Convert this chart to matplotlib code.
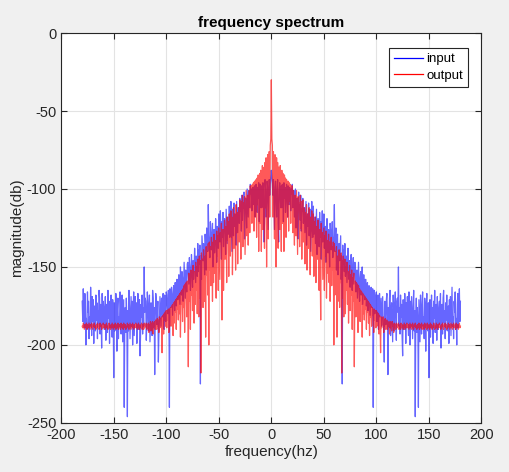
import numpy as np
from matplotlib import pyplot as plt

# one-sided spectrum, 0..180 Hz in 0.5 Hz steps (the picture is symmetric about 0)
input_half = [
    -88, -92, -97, -104, -94, -110, -126, -99, -95, -108, -118, -100, -94, -122, -134, -101, -96, -105, -112, -98,
    -112, -97, -102, -121, -96, -106, -99, -115, -108, -97, -103, -118, -98, -100, -110, -99, -104, -114, -100, -103,
    -97, -112, -104, -101, -118, -109, -100, -125, -109, -106, -115, -132, -102, -112, -110, -120, -104, -127, -113, -114,
    -106, -122, -116, -112, -128, -118, -108, -136, -121, -116, -124, -109, -130, -119, -113, -140, -123, -108, -126, -131,
    -111, -129, -121, -118, -135, -124, -113, -142, -127, -119, -122, -137, -115, -131, -121, -145, -126, -114, -134, -128,
    -116, -138, -127, -124, -147, -130, -119, -135, -141, -126, -132, -150, -122, -128, -139, -133, -121, -144, -136, -130,
    -110, -140, -131, -125, -152, -137, -129, -155, -141, -135, -146, -138, -130, -158, -143, -225, -136, -148, -139, -153,
    -135, -156, -147, -143, -160, -149, -138, -152, -158, -146, -163, -151, -142, -157, -165, -150, -144, -161, -154, -147,
    -148, -166, -156, -152, -170, -159, -147, -163, -172, -157, -153, -168, -161, -150, -174, -164, -155, -167, -171, -158,
    -158, -175, -166, -160, -178, -169, -162, -172, -181, -167, -163, -176, -170, -164, -240, -173, -165, -180, -175, -168,
    -166, -185, -172, -168, -190, -177, -167, -182, -176, -170, -188, -179, -169, -184, -193, -211, -172, -181, -187, -171,
    -167, -183, -219, -176, -189, -170, -165, -194, -180, -173, -186, -198, -168, -178, -191, -174, -166, -185, -197, -172,
    -170, -179, -150, -188, -176, -193, -168, -182, -174, -195, -207, -171, -184, -190, -167, -178, -199, -173, -186, -169,
    -181, -194, -166, -177, -200, -172, -188, -169, -183, -196, -175, -165, -191, -178, -246, -184, -170, -192, -176, -187,
    -240, -171, -185, -198, -168, -179, -193, -174, -166, -188, -182, -196, -170, -177, -204, -175, -167, -186, -191, -173,
    -221, -180, -171, -195, -184, -168, -189, -176, -199, -172, -183, -165, -192, -179, -174, -197, -169, -185, -190, -176,
    -172, -187, -167, -202, -181, -174, -193, -170, -165, -186, -178, -196, -173, -184, -168, -191, -180, -175, -199, -171,
    -185, -169, -194, -177, -163, -188, -182, -196, -172, -179, -166, -190, -183, -200, -174, -167, -189, -178, -164, -185,
    -172,
]

output_half = [
    -30, -68, -72, -118, -76, -98, -132, -78, -90, -150, -80, -112, -83, -138, -86, -96, -126, -85, -104, -140,
    -88, -122, -90, -102, -140, -91, -110, -93, -131, -94, -100, -118, -95, -127, -96, -108, -97, -122, -98, -112,
    -98, -128, -101, -115, -136, -104, -110, -130, -101, -120, -142, -105, -113, -109, -137, -104, -125, -108, -145, -116,
    -107, -134, -112, -122, -148, -115, -128, -110, -152, -119, -116, -138, -112, -126, -155, -118, -131, -114, -143, -121,
    -116, -156, -121, -133, -118, -160, -128, -124, -145, -120, -138, -165, -126, -150, -184, -122, -135, -128, -158, -140,
    -125, -165, -130, -143, -127, -170, -148, -133, -154, -129, -160, -134, -172, -146, -131, -162, -137, -152, -134, -200,
    -135, -168, -140, -155, -137, -195, -143, -172, -150, -139, -176, -145, -160, -141, -218, -146, -170, -143, -182, -158,
    -145, -180, -150, -165, -147, -174, -153, -186, -160, -149, -178, -155, -168, -152, -190, -157, -172, -154, -214, -166,
    -159, -182, -160, -170, -161, -192, -162, -176, -164, -185, -165, -174, -166, -195, -167, -180, -168, -184, -169, -177,
    -170, -190, -171, -179, -172, -186, -173, -194, -174, -182, -175, -188, -176, -181, -177, -192, -177, -184, -178, -189,
    -178, -188, -179, -184, -180, -193, -181, -186, -205, -182, -189, -183, -187, -182, -192, -184, -188, -183, -190, -185,
    -184, -190, -185, -188, -186, -193, -185, -189, -186, -191, -185, -188, -187, -192, -186, -189, -187, -190, -186, -188,
    -187, -189, -186, -190, -188, -187, -190, -186, -189, -188, -187, -190, -189, -186, -188, -190, -187, -189, -186, -188,
    -189, -187, -190, -188, -186, -189, -187, -190, -188, -186, -189, -190, -187, -188, -186, -189, -188, -190, -187, -189,
    -188, -186, -190, -187, -189, -188, -186, -190, -189, -187, -188, -190, -186, -189, -187, -188, -190, -186, -189, -188,
    -187, -190, -188, -186, -189, -187, -190, -188, -189, -186, -187, -190, -188, -189, -186, -188, -190, -187, -189, -188,
    -186, -189, -188, -190, -187, -188, -186, -189, -190, -187, -188, -186, -189, -187, -190, -188, -189, -186, -188, -187,
    -190, -188, -186, -189, -187, -190, -188, -186, -189, -188, -187, -190, -186, -188, -189, -187, -190, -188, -186, -189,
    -188,
]


def two_sided(half):
    # mirror the one-sided values around 0 Hz
    half = np.array(half, dtype=float)
    f = np.arange(len(half)) * 0.5
    return (np.concatenate([-f[::-1][:-1], f]),
            np.concatenate([half[::-1][:-1], half]))


f_in, inp = two_sided(input_half)
f_out, out = two_sided(output_half)

plt.rcParams['font.family'] = ['Liberation Sans', 'DejaVu Sans']
plt.rcParams['axes.unicode_minus'] = False

fig = plt.figure(figsize=(5.1, 4.72), dpi=100, facecolor='#f0f0f0')
ax = fig.add_axes([0.12, 0.104, 0.824, 0.826])

ax.plot(f_in, inp, color='#0000ff', lw=0.9, alpha=0.6, label='input')
ax.plot(f_out, out, color='#ff0000', lw=0.9, alpha=0.65, label='output')

ax.set_xlim(-200, 200)
ax.set_ylim(-250, 0)
ax.set_xticks(range(-200, 201, 50))
ax.set_yticks(range(-250, 1, 50))
ax.grid(True, color='#e3e3e3', lw=0.8)
ax.set_axisbelow(True)
ax.tick_params(direction='in', top=True, right=True, labelsize=10.5,
               colors='#262626', length=4)
for s in ax.spines.values():
    s.set_color('#262626')
    s.set_linewidth(0.8)

ax.set_title('frequency spectrum', fontsize=11, fontweight='bold', pad=4)
ax.set_xlabel('frequency(hz)', fontsize=11, color='#262626', labelpad=2)
ax.set_ylabel('magnitude(db)', fontsize=11, color='#262626', labelpad=2)

leg = ax.legend(loc='upper right', bbox_to_anchor=(0.969, 0.962),
                borderaxespad=0, fancybox=False, framealpha=1,
                edgecolor='#262626', fontsize=9.5, handlelength=2.2,
                handletextpad=0.25, borderpad=0.4, labelspacing=0.3)
leg.get_frame().set_linewidth(0.8)
for h in leg.get_lines():
    h.set_alpha(1)

fig.savefig('out.png', dpi=100, facecolor=fig.get_facecolor())
